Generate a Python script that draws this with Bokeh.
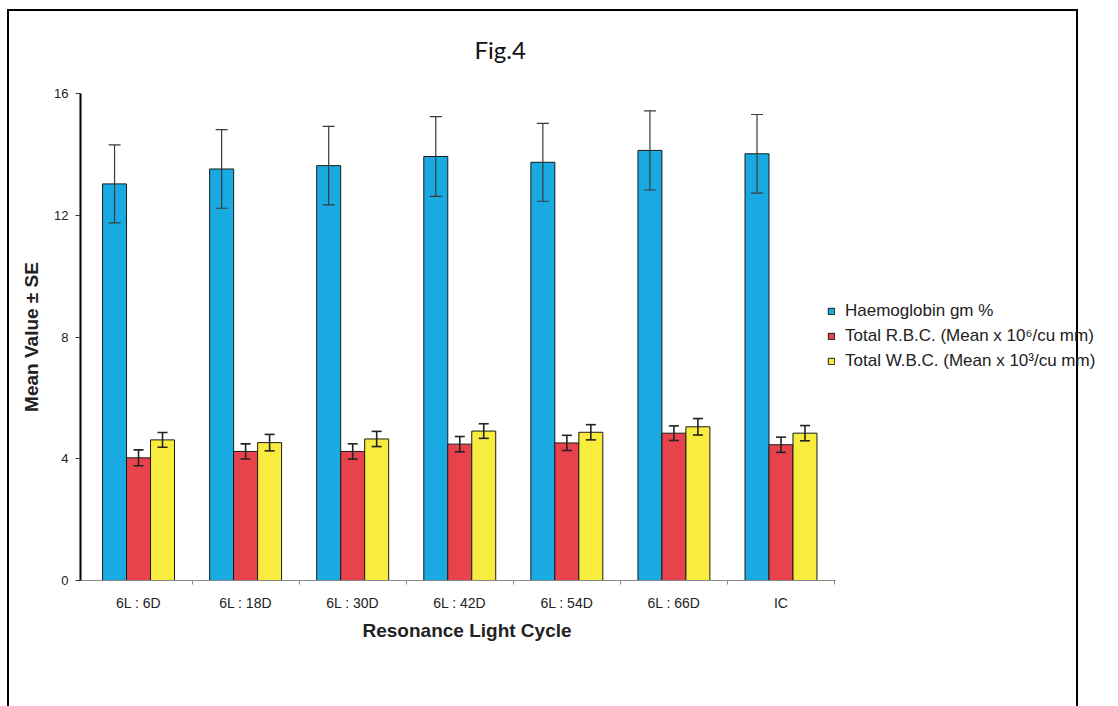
from bokeh.plotting import figure
from bokeh.models import (ColumnDataSource, Whisker, TeeHead, FixedTicker,
                          Legend, LegendItem, Range1d, Title)
from bokeh.transform import dodge
from bokeh.embed import file_html
from bokeh.resources import INLINE

# Mean values and standard errors per light-cycle group
categories = ["6L : 6D", "6L : 18D", "6L : 30D", "6L : 42D", "6L : 54D", "6L : 66D", "IC"]
haemoglobin = [13.03, 13.52, 13.63, 13.93, 13.74, 14.13, 14.02]
haemoglobin_se = [1.28, 1.29, 1.29, 1.31, 1.28, 1.30, 1.29]
rbc = [4.03, 4.24, 4.24, 4.48, 4.52, 4.84, 4.46]
rbc_se = [0.26, 0.25, 0.25, 0.25, 0.25, 0.24, 0.25]
wbc = [4.62, 4.53, 4.65, 4.91, 4.87, 5.05, 4.84]
wbc_se = [0.24, 0.27, 0.25, 0.24, 0.25, 0.27, 0.25]
y_ticks = [0, 4, 8, 12, 16]

series_labels = ["Haemoglobin gm %",
                 "Total R.B.C. (Mean x 10\u2076/cu mm)",
                 "Total W.B.C. (Mean x 10\u00b3/cu mm)"]
colors = ["#1aaae2", "#e8434d", "#f8ec3e"]

pos = [i + 0.5 for i in range(len(categories))]
src = ColumnDataSource(dict(
    x=pos,
    hb=haemoglobin, hb_lo=[m - s for m, s in zip(haemoglobin, haemoglobin_se)],
    hb_hi=[m + s for m, s in zip(haemoglobin, haemoglobin_se)],
    rbc=rbc, rbc_lo=[m - s for m, s in zip(rbc, rbc_se)],
    rbc_hi=[m + s for m, s in zip(rbc, rbc_se)],
    wbc=wbc, wbc_lo=[m - s for m, s in zip(wbc, wbc_se)],
    wbc_hi=[m + s for m, s in zip(wbc, wbc_se)],
))

# the plotting frame runs to the right edge so the legend has room;
# the x axis itself is bounded to the category span
x_start, x_axis_end, x_end = -0.042, 7.01, 9.652
p = figure(width=1118, height=706,
           x_range=Range1d(x_start, x_end), y_range=Range1d(0, 16),
           output_backend="svg", toolbar_location=None,
           min_border_left=80, min_border_right=0,
           min_border_top=93, min_border_bottom=126,
           outline_line_color=None)
p.grid.visible = False
p.border_fill_color = None
p.background_fill_color = None

# thin page frame (left, top, right) painted behind the transparent canvas
p.styles = {
    "background-color": "white",
    "background-image": "linear-gradient(#000,#000), linear-gradient(#000,#000), linear-gradient(#000,#000)",
    "background-size": "2px 700px, 1071px 2px, 2px 700px",
    "background-position": "7px 9px, 7px 9px, 1076px 9px",
    "background-repeat": "no-repeat",
}

# title
p.title.text = "Fig.4"
p.title.text_font = "Lato"
p.title.text_font_size = "24px"
p.title.text_font_style = "normal"
p.title.text_color = "#111111"
p.title.align = "left"
p.title.offset = 394
p.title.standoff = 60

bar_w = 0.224
keys = ["hb", "rbc", "wbc"]
offsets = [-bar_w, 0.0, bar_w]
renderers = []
for key, off, col in zip(keys, offsets, colors):
    r = p.vbar(x=dodge("x", off, range=p.x_range), top=key, width=bar_w,
               source=src, fill_color=col, line_color="#1a1a1a", line_width=1)
    renderers.append(r)

# error bars
for key, off in zip(keys, offsets):
    big = key == "hb"
    size = 12 if big else 10
    lc = "#3a3a3a" if big else "#222222"
    lw = 1.2 if big else 1.6
    w = Whisker(source=src, base=dodge("x", off, range=p.x_range),
                lower=key + "_lo", upper=key + "_hi",
                line_color=lc, line_width=lw, level="overlay",
                upper_head=TeeHead(size=size, line_color=lc, line_width=lw),
                lower_head=TeeHead(size=size, line_color=lc, line_width=lw))
    p.add_layout(w)

# y axis
p.yaxis.ticker = FixedTicker(ticks=y_ticks)
p.yaxis.axis_line_color = "black"
p.yaxis.axis_line_width = 2
p.yaxis.major_tick_out = 5
p.yaxis.major_tick_in = 0
p.yaxis.major_tick_line_color = "#333333"
p.yaxis.minor_tick_line_color = None
p.yaxis.major_label_standoff = 7
p.yaxis.major_label_text_font = "Liberation Sans"
p.yaxis.major_label_text_font_size = "13px"
p.yaxis.major_label_text_color = "#222222"
p.yaxis.axis_label = "Mean Value \u00b1 SE"
p.yaxis.axis_label_text_font = "Liberation Sans"
p.yaxis.axis_label_text_font_size = "19px"
p.yaxis.axis_label_text_font_style = "bold"
p.yaxis.axis_label_text_color = "#222222"
p.yaxis.axis_label_standoff = 9

# x axis: labels at group centres, small ticks at group boundaries
p.xaxis.bounds = (x_start, x_axis_end)
p.xaxis.ticker = FixedTicker(ticks=pos,
                             minor_ticks=[i for i in range(1, len(categories) + 1)])
p.xaxis.major_label_overrides = {x: c for x, c in zip(pos, categories)}
p.xaxis.axis_line_color = "#8a8a8a"
p.xaxis.axis_line_width = 1
p.xaxis.major_tick_line_color = None
p.xaxis.major_tick_out = 4
p.xaxis.major_tick_in = 0
p.xaxis.minor_tick_line_color = "#8a8a8a"
p.xaxis.minor_tick_out = 4
p.xaxis.minor_tick_in = 0
p.xaxis.major_label_standoff = 10
p.xaxis.major_label_text_font = "Liberation Sans"
p.xaxis.major_label_text_font_size = "14px"
p.xaxis.major_label_text_color = "#222222"

# x-axis title, centred under the category span
x_title = Title(text="Resonance Light Cycle", align="left", offset=282,
                standoff=8, text_font="Liberation Sans", text_font_size="19px",
                text_font_style="bold", text_color="#222222")
p.add_layout(x_title, "below")

legend = Legend(items=[LegendItem(label=lab, renderers=[r])
                       for lab, r in zip(series_labels, renderers)],
                location=(747, 209))
legend.border_line_color = None
legend.background_fill_alpha = 0
legend.padding = 0
legend.margin = 0
legend.spacing = 5
legend.glyph_width = 8
legend.glyph_height = 8
legend.label_standoff = 10
legend.label_text_font = "Liberation Sans"
legend.label_text_font_size = "17px"
legend.label_text_color = "#222222"
p.add_layout(legend)

open("out.html", "w").write(file_html(p, INLINE))
